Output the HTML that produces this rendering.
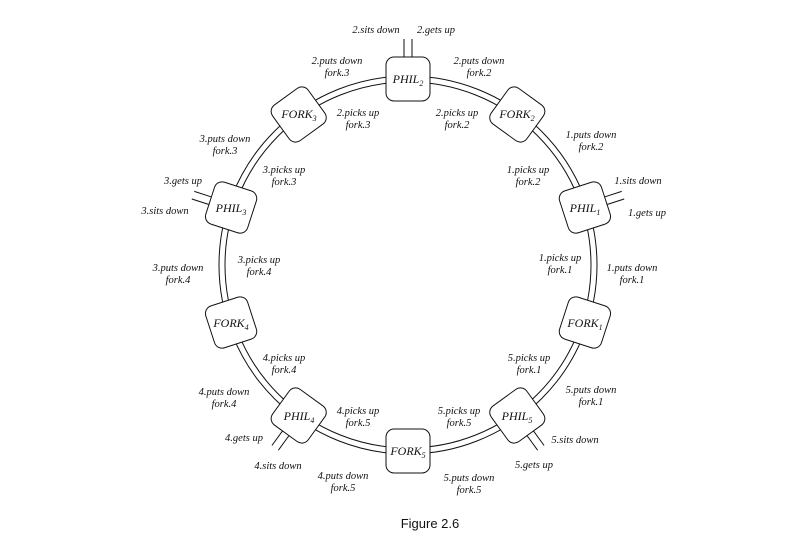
<!DOCTYPE html>
<html><head><meta charset="utf-8"><style>
html,body{margin:0;padding:0;background:#fff;width:800px;height:552px;overflow:hidden}
svg{display:block}
.l{font-family:"Liberation Serif",serif;font-style:italic;font-size:10.5px;fill:#111;text-anchor:middle}
.n{font-family:"Liberation Serif",serif;font-style:italic;font-size:12px;fill:#111;text-anchor:middle}
.c{font-family:"Liberation Sans",sans-serif;font-size:13px;fill:#111;text-anchor:middle}
</style></head><body>
<svg width="800" height="552" viewBox="0 0 800 552">
<g fill="none" stroke="#111" stroke-width="1">
<circle cx="408" cy="265" r="183"/>
<circle cx="408" cy="265" r="189"/>
<g transform="translate(408,265)">
<g transform="rotate(-90)"><line x1="208" y1="-4" x2="226" y2="-4"/><line x1="208" y1="4" x2="226" y2="4"/></g>
<g transform="rotate(-18)"><line x1="208" y1="-4" x2="226" y2="-4"/><line x1="208" y1="4" x2="226" y2="4"/></g>
<g transform="rotate(54)"><line x1="208" y1="-4" x2="226" y2="-4"/><line x1="208" y1="4" x2="226" y2="4"/></g>
<g transform="rotate(126)"><line x1="208" y1="-4" x2="226" y2="-4"/><line x1="208" y1="4" x2="226" y2="4"/></g>
<g transform="rotate(198)"><line x1="208" y1="-4" x2="226" y2="-4"/><line x1="208" y1="4" x2="226" y2="4"/></g>
</g>
</g>
<g fill="#fff" stroke="#111" stroke-width="1">
<rect x="-22" y="-22" width="44" height="44" rx="8" transform="translate(408,79) rotate(0)"/>
<rect x="-22" y="-22" width="44" height="44" rx="8" transform="translate(517.3,114.5) rotate(36)"/>
<rect x="-22" y="-22" width="44" height="44" rx="8" transform="translate(584.9,207.5) rotate(72)"/>
<rect x="-22" y="-22" width="44" height="44" rx="8" transform="translate(584.9,322.5) rotate(108)"/>
<rect x="-22" y="-22" width="44" height="44" rx="8" transform="translate(517.3,415.5) rotate(144)"/>
<rect x="-22" y="-22" width="44" height="44" rx="8" transform="translate(408,451) rotate(180)"/>
<rect x="-22" y="-22" width="44" height="44" rx="8" transform="translate(298.7,415.5) rotate(216)"/>
<rect x="-22" y="-22" width="44" height="44" rx="8" transform="translate(231.1,322.5) rotate(252)"/>
<rect x="-22" y="-22" width="44" height="44" rx="8" transform="translate(231.1,207.5) rotate(288)"/>
<rect x="-22" y="-22" width="44" height="44" rx="8" transform="translate(298.7,114.5) rotate(324)"/>
</g>
<g class="n">
<text x="408" y="83">PHIL<tspan font-size="8" dy="3">2</tspan></text>
<text x="517" y="118">FORK<tspan font-size="8" dy="3">2</tspan></text>
<text x="585" y="212">PHIL<tspan font-size="8" dy="3">1</tspan></text>
<text x="585" y="327">FORK<tspan font-size="8" dy="3">1</tspan></text>
<text x="517" y="420">PHIL<tspan font-size="8" dy="3">5</tspan></text>
<text x="408" y="455">FORK<tspan font-size="8" dy="3">5</tspan></text>
<text x="299" y="420">PHIL<tspan font-size="8" dy="3">4</tspan></text>
<text x="231" y="327">FORK<tspan font-size="8" dy="3">4</tspan></text>
<text x="231" y="212">PHIL<tspan font-size="8" dy="3">3</tspan></text>
<text x="299" y="118">FORK<tspan font-size="8" dy="3">3</tspan></text>
</g>
<g class="l">
<text x="376" y="33">2.sits down</text><text x="436" y="33">2.gets up</text>
<text x="337" y="64">2.puts down</text><text x="337" y="76">fork.3</text>
<text x="479" y="64">2.puts down</text><text x="479" y="76">fork.2</text>
<text x="358" y="116">2.picks up</text><text x="358" y="128">fork.3</text>
<text x="457" y="116">2.picks up</text><text x="457" y="128">fork.2</text>
<text x="225" y="142">3.puts down</text><text x="225" y="154">fork.3</text>
<text x="284" y="173">3.picks up</text><text x="284" y="185">fork.3</text>
<text x="591" y="138">1.puts down</text><text x="591" y="150">fork.2</text>
<text x="528" y="173">1.picks up</text><text x="528" y="185">fork.2</text>
<text x="638" y="184">1.sits down</text><text x="647" y="216">1.gets up</text>
<text x="183" y="184">3.gets up</text><text x="165" y="214">3.sits down</text>
<text x="178" y="271">3.puts down</text><text x="178" y="283">fork.4</text>
<text x="259" y="263">3.picks up</text><text x="259" y="275">fork.4</text>
<text x="560" y="261">1.picks up</text><text x="560" y="273">fork.1</text>
<text x="632" y="271">1.puts down</text><text x="632" y="283">fork.1</text>
<text x="284" y="361">4.picks up</text><text x="284" y="373">fork.4</text>
<text x="529" y="361">5.picks up</text><text x="529" y="373">fork.1</text>
<text x="224" y="395">4.puts down</text><text x="224" y="407">fork.4</text>
<text x="591" y="393">5.puts down</text><text x="591" y="405">fork.1</text>
<text x="358" y="414">4.picks up</text><text x="358" y="426">fork.5</text>
<text x="459" y="414">5.picks up</text><text x="459" y="426">fork.5</text>
<text x="244" y="441">4.gets up</text><text x="575" y="443">5.sits down</text>
<text x="278" y="469">4.sits down</text><text x="534" y="468">5.gets up</text>
<text x="343" y="479">4.puts down</text><text x="343" y="491">fork.5</text>
<text x="469" y="481">5.puts down</text><text x="469" y="493">fork.5</text>
</g>
<text class="c" x="430" y="528">Figure 2.6</text>
</svg>
</body></html>
